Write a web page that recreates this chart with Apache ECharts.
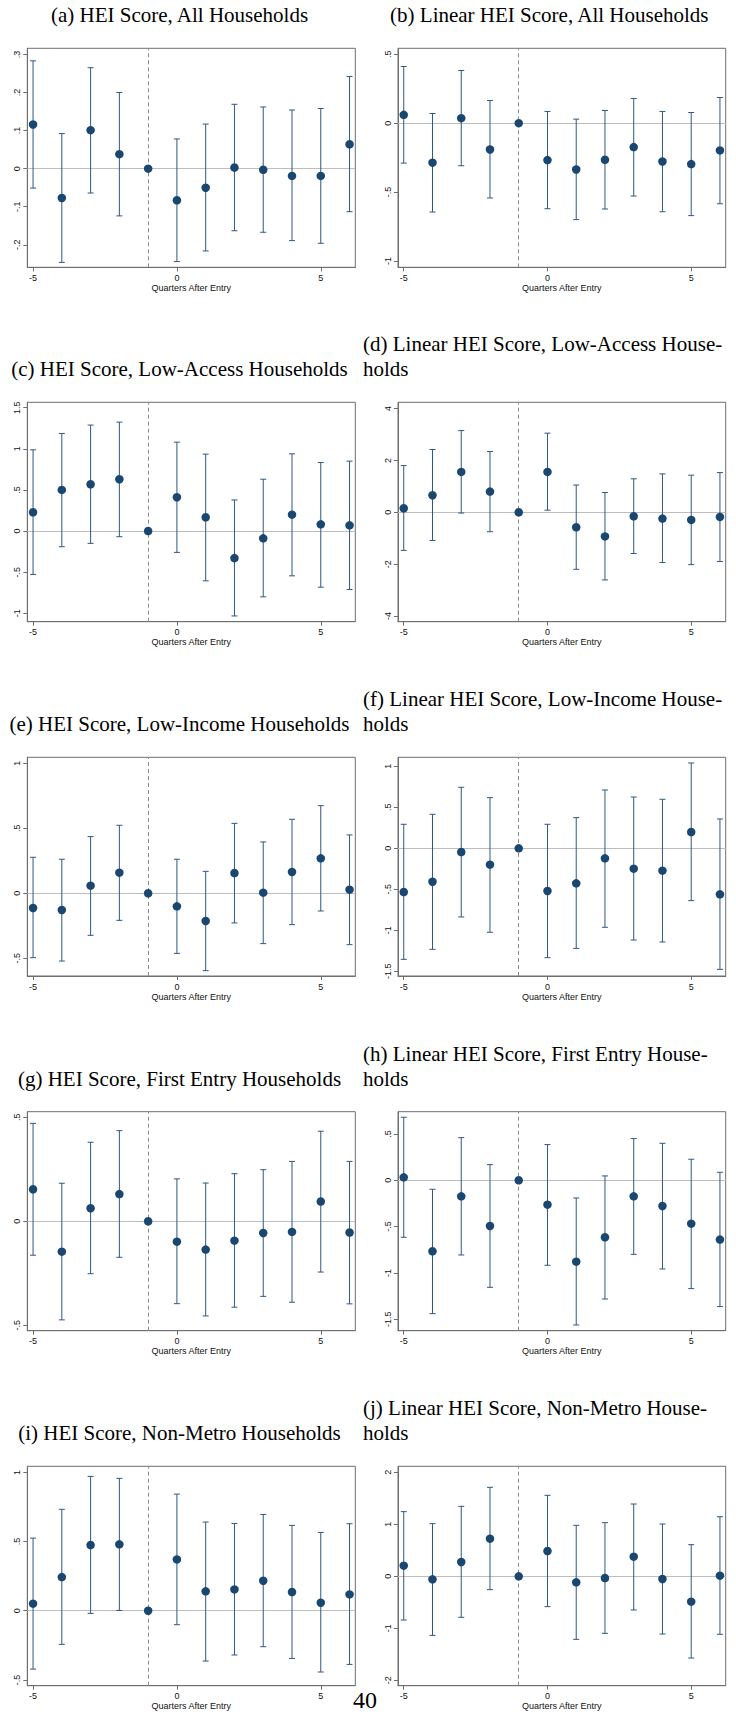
<!DOCTYPE html>
<html>
<head>
<meta charset="utf-8">
<script src="https://cdn.jsdelivr.net/npm/echarts@6/dist/echarts.min.js"></script>
<style>
  html, body { margin: 0; padding: 0; background: #ffffff; }
  #chart { width: 736px; height: 1714px; }
</style>
</head>
<body>
<div id="chart"></div>
<script>
// Event-study estimates by quarter relative to store entry (base quarter -1 fixed at 0).
const quarters = [-5, -4, -3, -2, -1, 0, 1, 2, 3, 4, 5, 6];

// (a) HEI score, all households
const heiAllEst = [0.116, -0.077, 0.101, 0.038, 0, -0.083, -0.050, 0.003, -0.003, -0.019, -0.019, 0.064];
const heiAllLo  = [-0.051, -0.246, -0.064, -0.124, 0, -0.244, -0.216, -0.163, -0.167, -0.189, -0.196, -0.113];
const heiAllHi  = [0.283, 0.092, 0.265, 0.200, 0, 0.078, 0.117, 0.169, 0.162, 0.154, 0.158, 0.242];
const heiAllTicks = [-0.2, -0.1, 0, 0.1, 0.2, 0.3];

// (b) Linear HEI score, all households
const linAllEst = [0.060, -0.287, 0.036, -0.191, 0, -0.268, -0.336, -0.266, -0.174, -0.278, -0.297, -0.198];
const linAllLo  = [-0.290, -0.645, -0.309, -0.543, 0, -0.621, -0.700, -0.623, -0.529, -0.643, -0.671, -0.585];
const linAllHi  = [0.411, 0.070, 0.382, 0.164, 0, 0.085, 0.029, 0.092, 0.179, 0.085, 0.077, 0.186];
const linAllTicks = [-1, -0.5, 0, 0.5];

// (c) HEI score, low-access households
const heiLowAccessEst = [0.228, 0.500, 0.569, 0.630, 0, 0.411, 0.167, -0.329, -0.089, 0.199, 0.081, 0.069];
const heiLowAccessLo  = [-0.528, -0.191, -0.150, -0.069, 0, -0.260, -0.606, -1.033, -0.801, -0.545, -0.683, -0.711];
const heiLowAccessHi  = [0.988, 1.187, 1.289, 1.325, 0, 1.081, 0.935, 0.378, 0.630, 0.939, 0.833, 0.850];
const heiLowAccessTicks = [-1, -0.5, 0, 0.5, 1, 1.5];

// (d) Linear HEI score, low-access households
const linLowAccessEst = [0.154, 0.656, 1.556, 0.797, 0, 1.556, -0.58, -0.93, -0.154, -0.244, -0.296, -0.18];
const linLowAccessLo  = [-1.47, -1.09, -0.03, -0.75, 0, 0.08, -2.20, -2.61, -1.59, -1.94, -2.02, -1.90];
const linLowAccessHi  = [1.80, 2.42, 3.15, 2.34, 0, 3.05, 1.05, 0.76, 1.29, 1.48, 1.43, 1.53];
const linLowAccessTicks = [-4, -2, 0, 2, 4];

// (e) HEI score, low-income households
const heiLowIncomeEst = [-0.113, -0.128, 0.059, 0.159, 0, -0.100, -0.213, 0.156, 0.005, 0.164, 0.269, 0.028];
const heiLowIncomeLo  = [-0.495, -0.521, -0.323, -0.208, 0, -0.462, -0.595, -0.228, -0.387, -0.241, -0.136, -0.395];
const heiLowIncomeHi  = [0.277, 0.262, 0.436, 0.523, 0, 0.262, 0.169, 0.538, 0.395, 0.569, 0.674, 0.449];
const heiLowIncomeTicks = [-0.5, 0, 0.5, 1];

// (f) Linear HEI score, low-income households
const linLowIncomeEst = [-0.533, -0.407, -0.045, -0.199, 0, -0.520, -0.427, -0.122, -0.248, -0.272, 0.199, -0.561];
const linLowIncomeLo  = [-1.354, -1.232, -0.837, -1.024, 0, -1.333, -1.220, -0.963, -1.118, -1.142, -0.638, -1.476];
const linLowIncomeHi  = [0.293, 0.415, 0.744, 0.618, 0, 0.293, 0.374, 0.711, 0.626, 0.598, 1.041, 0.358];
const linLowIncomeTicks = [-1.5, -1, -0.5, 0, 0.5, 1];

// (g) HEI score, first-entry households
const heiFirstEntryEst = [0.154, -0.146, 0.063, 0.131, 0, -0.098, -0.136, -0.093, -0.056, -0.051, 0.095, -0.054];
const heiFirstEntryLo  = [-0.163, -0.474, -0.252, -0.173, 0, -0.396, -0.455, -0.413, -0.361, -0.389, -0.244, -0.397];
const heiFirstEntryHi  = [0.471, 0.183, 0.380, 0.436, 0, 0.204, 0.184, 0.229, 0.248, 0.288, 0.433, 0.288];
const heiFirstEntryTicks = [-0.5, 0, 0.5];

// (h) Linear HEI score, first-entry households
const linFirstEntryEst = [0.032, -0.766, -0.173, -0.493, 0, -0.263, -0.878, -0.615, -0.173, -0.277, -0.468, -0.640];
const linFirstEntryLo  = [-0.615, -1.439, -0.806, -1.155, 0, -0.917, -1.561, -1.281, -0.799, -0.957, -1.169, -1.363];
const linFirstEntryHi  = [0.680, -0.097, 0.460, 0.169, 0, 0.385, -0.191, 0.047, 0.450, 0.399, 0.227, 0.086];
const linFirstEntryTicks = [-1.5, -1, -0.5, 0, 0.5];

// (i) HEI score, non-metro households
const heiNonMetroEst = [0.051, 0.243, 0.475, 0.480, 0, 0.371, 0.140, 0.154, 0.217, 0.135, 0.058, 0.118];
const heiNonMetroLo  = [-0.422, -0.243, -0.019, 0.002, 0, -0.101, -0.364, -0.320, -0.260, -0.345, -0.443, -0.388];
const heiNonMetroHi  = [0.525, 0.733, 0.971, 0.957, 0, 0.843, 0.641, 0.631, 0.696, 0.617, 0.566, 0.629];
const heiNonMetroTicks = [-0.5, 0, 0.5, 1];

// (j) Linear HEI score, non-metro households
const linNonMetroEst = [0.205, -0.058, 0.276, 0.724, 0, 0.487, -0.115, -0.032, 0.378, -0.051, -0.487, 0.013];
const linNonMetroLo  = [-0.840, -1.135, -0.788, -0.256, 0, -0.583, -1.212, -1.096, -0.647, -1.109, -1.571, -1.115];
const linNonMetroHi  = [1.244, 1.013, 1.346, 1.712, 0, 1.558, 0.981, 1.032, 1.391, 1.006, 0.609, 1.147];
const linNonMetroTicks = [-2, -1, 0, 1, 2];

const xTicks = [-5, 0, 5];
const xAxisTitle = 'Quarters After Entry';
const pageNumber = '40';

// Panel captions: single-line captions are centred, two-line ones run left-aligned.
const captions = [
  ['(a) HEI Score, All Households'],
  ['(b) Linear HEI Score, All Households'],
  ['(c) HEI Score, Low-Access Households'],
  ['(d) Linear HEI Score, Low-Access House-', 'holds'],
  ['(e) HEI Score, Low-Income Households'],
  ['(f) Linear HEI Score, Low-Income House-', 'holds'],
  ['(g) HEI Score, First Entry Households'],
  ['(h) Linear HEI Score, First Entry House-', 'holds'],
  ['(i) HEI Score, Non-Metro Households'],
  ['(j) Linear HEI Score, Non-Metro House-', 'holds']
];

// Layout: grid rectangles, y ranges, caption baselines.
const LEFT_COL = { left: 27.3, width: 328, capCenter: 179.5 };
const RIGHT_COL = { left: 398, width: 327.7, capCenter: 549.3, capLeft: 363 };
const ROWS = [
  { top: 48.3, height: 219, base: 21.7 },
  { top: 402.3, height: 219.4, base: 375.6 },
  { top: 757.3, height: 218.7, base: 730.2 },
  { top: 1111.7, height: 219, base: 1085 },
  { top: 1466.3, height: 219.4, base: 1439.3 }
];

const panels = [
  { est: heiAllEst, lo: heiAllLo, hi: heiAllHi, ticks: heiAllTicks, min: -0.259, max: 0.316 },
  { est: linAllEst, lo: linAllLo, hi: linAllHi, ticks: linAllTicks, min: -1.046, max: 0.543 },
  { est: heiLowAccessEst, lo: heiLowAccessLo, hi: heiLowAccessHi, ticks: heiLowAccessTicks, min: -1.103, max: 1.566 },
  { est: linLowAccessEst, lo: linLowAccessLo, hi: linLowAccessHi, ticks: linLowAccessTicks, min: -4.22, max: 4.24 },
  { est: heiLowIncomeEst, lo: heiLowIncomeLo, hi: heiLowIncomeHi, ticks: heiLowIncomeTicks, min: -0.636, max: 1.046 },
  { est: linLowIncomeEst, lo: linLowIncomeLo, hi: linLowIncomeHi, ticks: linLowIncomeTicks, min: -1.557, max: 1.110 },
  { est: heiFirstEntryEst, lo: heiFirstEntryLo, hi: heiFirstEntryHi, ticks: heiFirstEntryTicks, min: -0.526, max: 0.527 },
  { est: linFirstEntryEst, lo: linFirstEntryLo, hi: linFirstEntryHi, ticks: linFirstEntryTicks, min: -1.623, max: 0.740 },
  { est: heiNonMetroEst, lo: heiNonMetroLo, hi: heiNonMetroHi, ticks: heiNonMetroTicks, min: -0.542, max: 1.044 },
  { est: linNonMetroEst, lo: linNonMetroLo, hi: linNonMetroHi, ticks: linNonMetroTicks, min: -2.103, max: 2.116 }
];

const FRAME = '#6e6e6e';
const ZERO_LINE = '#bdbdbd';
const DASH_LINE = '#8c8c8c';
const DOT = '#1a476f';
const BAR = '#2f5884';
const TEXT = '#111111';
const SANS = '"Liberation Sans", Arial, sans-serif';
const SERIF = '"Liberation Serif", "Times New Roman", serif';
const CAP_SIZE = 21;

// Stata-style tick labels: ".5", "-.2", "1.5"
function stataNum(v) {
  let s = String(Math.round(v * 1000) / 1000);
  return s.replace(/^(-?)0\./, '$1.');
}

const grids = [], xAxes = [], yAxes = [], series = [], graphics = [];

panels.forEach((p, i) => {
  const col = i % 2 === 0 ? LEFT_COL : RIGHT_COL;
  const row = ROWS[Math.floor(i / 2)];

  grids.push({
    left: col.left, top: row.top, width: col.width, height: row.height,
    show: true, borderColor: FRAME, borderWidth: 1, backgroundColor: 'transparent'
  });

  xAxes.push({
    gridIndex: i, type: 'value', min: -5.2, max: 6.2,
    name: xAxisTitle, nameLocation: 'middle', nameGap: 16,
    nameTextStyle: { fontFamily: SANS, fontSize: 9, color: TEXT },
    axisLine: { show: true, onZero: false, lineStyle: { color: FRAME, width: 1 } },
    axisTick: { show: true, inside: false, length: 4, customValues: xTicks, lineStyle: { color: FRAME, width: 1 } },
    axisLabel: { customValues: xTicks, fontFamily: SANS, fontSize: 9, color: TEXT, margin: 6, formatter: v => String(v) },
    splitLine: { show: false }
  });

  yAxes.push({
    gridIndex: i, type: 'value', min: p.min, max: p.max,
    axisLine: { show: true, onZero: false, lineStyle: { color: FRAME, width: 1 } },
    axisTick: { show: true, inside: false, length: 4, customValues: p.ticks, lineStyle: { color: FRAME, width: 1 } },
    axisLabel: { customValues: p.ticks, rotate: 90, fontFamily: SANS, fontSize: 9, color: TEXT, margin: 6, formatter: stataNum },
    splitLine: { show: false }
  });

  const ci = quarters.map((q, k) => [q, p.lo[k], p.hi[k]]);
  const pts = quarters.map((q, k) => [q, p.est[k]]);

  // 95% confidence intervals as capped spikes
  series.push({
    type: 'custom', xAxisIndex: i, yAxisIndex: i, z: 2, silent: true,
    data: ci,
    encode: { x: 0, y: [1, 2] },
    renderItem: (params, api) => {
      const x = api.value(0), lo = api.value(1), hi = api.value(2);
      if (lo === hi) return null;
      const a = api.coord([x, lo]);
      const b = api.coord([x, hi]);
      const w = 3;
      const st = { stroke: BAR, lineWidth: 1, fill: null };
      return {
        type: 'group',
        children: [
          { type: 'line', shape: { x1: a[0], y1: a[1], x2: b[0], y2: b[1] }, style: st },
          { type: 'line', shape: { x1: a[0] - w, y1: a[1], x2: a[0] + w, y2: a[1] }, style: st },
          { type: 'line', shape: { x1: b[0] - w, y1: b[1], x2: b[0] + w, y2: b[1] }, style: st }
        ]
      };
    }
  });

  // point estimates + reference lines (y = 0, dashed at the omitted quarter)
  series.push({
    type: 'scatter', xAxisIndex: i, yAxisIndex: i, z: 3, silent: true,
    data: pts, symbol: 'circle', symbolSize: 8.5,
    itemStyle: { color: DOT, opacity: 1 },
    markLine: {
      silent: true, symbol: 'none', z: 1, animation: false,
      label: { show: false },
      data: [
        { yAxis: 0, lineStyle: { color: ZERO_LINE, width: 1, type: 'solid' } },
        { xAxis: -1, lineStyle: { color: DASH_LINE, width: 1, type: [4, 3] } }
      ]
    }
  });

  // captions
  const cap = captions[i];
  if (cap.length === 1) {
    graphics.push({
      type: 'text', x: col.capCenter, y: row.base - 6.4,
      style: { text: cap[0], font: CAP_SIZE + 'px ' + SERIF, fill: '#000', align: 'center', verticalAlign: 'middle' }
    });
  } else {
    graphics.push({
      type: 'text', x: col.capLeft, y: row.base - 25 - 6.4,
      style: { text: cap[0], font: CAP_SIZE + 'px ' + SERIF, fill: '#000', align: 'left', verticalAlign: 'middle' }
    });
    graphics.push({
      type: 'text', x: col.capLeft, y: row.base - 6.4,
      style: { text: cap[1], font: CAP_SIZE + 'px ' + SERIF, fill: '#000', align: 'left', verticalAlign: 'middle' }
    });
  }
});

// page number at the foot of the page
graphics.push({
  type: 'text', x: 365, y: 1700,
  style: { text: pageNumber, font: '24px ' + SERIF, fill: '#000', align: 'center', verticalAlign: 'middle' }
});

const chart = echarts.init(document.getElementById('chart'), null, { renderer: 'svg', width: 736, height: 1714 });
chart.setOption({
  animation: false,
  backgroundColor: '#ffffff',
  grid: grids,
  xAxis: xAxes,
  yAxis: yAxes,
  series: series,
  graphic: { elements: graphics }
});
</script>
</body>
</html>
